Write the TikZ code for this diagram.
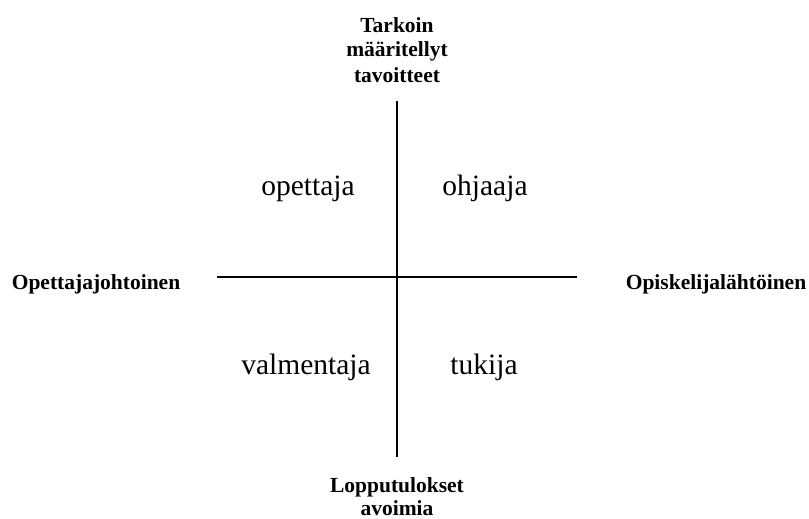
\documentclass[tikz,border=0pt]{standalone}
\usepackage{fontspec}
\setmainfont{Liberation Serif}
\begin{document}
\begin{tikzpicture}[x=1pt,y=-1pt,
  axis/.style={draw=black,line width=1.2pt},
  pole/.style={font=\fontsize{21.5}{25}\selectfont\bfseries,align=center,inner sep=0pt,anchor=base},
  role/.style={font=\fontsize{29.5}{32}\selectfont,inner sep=0pt,anchor=base}]
\useasboundingbox (0,0) rectangle (809,519);
\coordinate (top) at (397,101);
\coordinate (bot) at (397,457);
\coordinate (lft) at (217,277);
\coordinate (rgt) at (577,277);
\draw[axis] (top) -- (bot);
\draw[axis] (lft) -- (rgt);
\node[pole] (t) at (397,82) {Tarkoin\\määritellyt\\tavoitteet};
\node[pole,font=\fontsize{21.5}{23}\selectfont\bfseries] (b) at (397,515) {Lopputulokset\\avoimia};
\node[pole] (l) at (96,289) {Opettajajohtoinen};
\node[pole] (r) at (716,289) {Opiskelijalähtöinen};
\node[role] (q1) at (308,195) {opettaja};
\node[role] (q2) at (485,195) {ohjaaja};
\node[role] (q3) at (306,374) {valmentaja};
\node[role] (q4) at (484,374) {tukija};
\end{tikzpicture}
\end{document}
